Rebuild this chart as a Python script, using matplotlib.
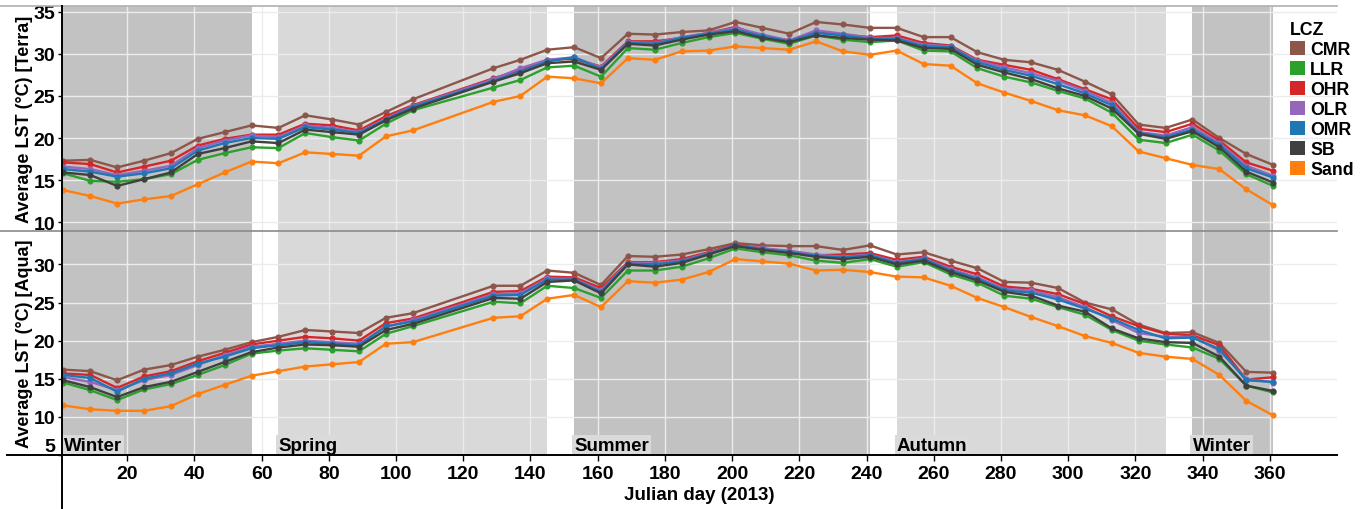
import matplotlib

matplotlib.use("Agg")
import matplotlib.pyplot as plt
from matplotlib.lines import Line2D
from matplotlib.patches import Patch

plt.rcParams["font.family"] = ["Liberation Sans", "DejaVu Sans"]
plt.rcParams["font.weight"] = "bold"

# 8-day composites (days 113 and 121 missing)
days = [1, 9, 17, 25, 33, 41, 49, 57, 65, 73, 81, 89, 97, 105, 129, 137, 145, 153,
        161, 169, 177, 185, 193, 201, 209, 217, 225, 233, 241, 249, 257, 265, 273,
        281, 289, 297, 305, 313, 321, 329, 337, 345, 353, 361]

lcz_names = ["CMR", "LLR", "OHR", "OLR", "OMR", "SB", "Sand"]
lcz_colors = ["#8c564b", "#2ca02c", "#d62728", "#9467bd", "#1f77b4", "#404040", "#ff7f0e"]

terra_cmr = [17.3, 17.4, 16.5, 17.3, 18.2, 19.9, 20.7, 21.5, 21.2, 22.7, 22.2, 21.6, 23.1, 24.6,
             28.3, 29.3, 30.5, 30.8, 29.5, 32.4, 32.3, 32.6, 32.8, 33.8, 33.1, 32.4, 33.8, 33.5,
             33.1, 33.1, 32.0, 32.0, 30.2, 29.3, 29.0, 28.1, 26.7, 25.2, 21.6, 21.2, 22.2, 20.0,
             18.1, 16.8]
terra_llr = [15.8, 14.9, 14.8, 15.1, 15.7, 17.4, 18.2, 18.9, 18.8, 20.6, 20.1, 19.7, 21.7, 23.3,
             26.0, 26.9, 28.4, 28.6, 27.3, 30.7, 30.5, 31.3, 32.0, 32.5, 31.8, 31.2, 32.2, 31.7,
             31.4, 31.6, 30.4, 30.3, 28.3, 27.3, 26.6, 25.6, 24.7, 23.0, 19.8, 19.4, 20.4, 18.5,
             15.7, 14.3]
terra_ohr = [17.1, 16.9, 15.9, 16.6, 17.3, 19.1, 19.9, 20.4, 20.4, 21.7, 21.5, 20.9, 22.6, 23.9,
             27.1, 28.1, 29.3, 29.4, 28.5, 31.5, 31.5, 31.9, 32.5, 33.2, 32.1, 31.6, 32.6, 32.3,
             32.0, 32.2, 31.3, 31.0, 29.3, 28.7, 28.1, 27.0, 25.8, 24.6, 21.1, 20.7, 21.7, 19.7,
             17.1, 16.1]
terra_olr = [16.6, 16.3, 15.6, 16.1, 16.7, 18.8, 19.7, 20.3, 20.1, 21.5, 21.2, 20.7, 22.3, 23.8,
             27.0, 28.3, 29.3, 29.6, 28.4, 31.4, 31.3, 32.0, 32.5, 33.1, 32.3, 31.6, 32.8, 32.4,
             31.9, 31.9, 31.1, 30.9, 29.2, 28.4, 27.7, 26.8, 25.6, 24.2, 20.7, 20.3, 21.3, 19.4,
             16.7, 15.5]
terra_omr = [16.3, 16.0, 15.4, 15.8, 16.4, 18.5, 19.4, 20.0, 19.9, 21.3, 21.0, 20.6, 22.2, 23.7,
             26.8, 27.9, 29.1, 29.6, 28.2, 31.3, 31.2, 31.9, 32.4, 32.9, 32.1, 31.5, 32.5, 32.2,
             31.8, 31.8, 30.9, 30.8, 29.0, 28.1, 27.4, 26.4, 25.3, 23.9, 20.6, 20.1, 21.0, 19.2,
             16.4, 15.3]
terra_sb = [15.9, 15.6, 14.3, 15.1, 15.9, 18.1, 18.8, 19.6, 19.4, 21.0, 20.7, 20.4, 22.1, 23.5,
            26.7, 27.7, 28.9, 29.1, 28.1, 31.2, 31.0, 31.7, 32.3, 32.7, 31.9, 31.4, 32.2, 31.9,
            31.7, 31.6, 30.7, 30.6, 28.7, 27.8, 27.0, 25.9, 25.0, 23.5, 20.5, 19.9, 20.8, 18.9,
            16.0, 14.7]
terra_sand = [13.8, 13.1, 12.2, 12.7, 13.1, 14.5, 15.9, 17.2, 17.0, 18.3, 18.1, 17.9, 20.2, 20.9,
              24.3, 25.0, 27.3, 27.1, 26.5, 29.5, 29.3, 30.3, 30.4, 30.9, 30.7, 30.5, 31.5, 30.3,
              29.9, 30.4, 28.8, 28.6, 26.5, 25.4, 24.4, 23.3, 22.7, 21.4, 18.4, 17.6, 16.8, 16.3,
              13.9, 12.0]

aqua_cmr = [16.2, 16.0, 14.8, 16.2, 16.8, 17.9, 18.8, 19.8, 20.5, 21.4, 21.2, 21.0, 23.0, 23.6,
            27.2, 27.2, 29.2, 28.9, 27.3, 31.1, 31.0, 31.3, 32.0, 32.8, 32.5, 32.4, 32.4, 31.9,
            32.5, 31.3, 31.6, 30.5, 29.5, 27.7, 27.6, 26.9, 25.0, 24.1, 22.1, 21.0, 21.1, 19.7,
            15.9, 15.8]
aqua_llr = [14.5, 13.5, 12.2, 13.6, 14.3, 15.5, 16.8, 18.3, 18.7, 19.0, 18.8, 18.6, 20.9, 21.9,
            25.1, 24.9, 27.2, 26.9, 25.6, 29.2, 29.2, 29.7, 30.8, 32.1, 31.6, 31.2, 30.5, 30.2,
            30.7, 29.7, 30.3, 28.7, 27.6, 25.9, 25.5, 24.4, 23.4, 21.4, 20.0, 19.5, 19.1, 17.6,
            14.1, 13.2]
aqua_ohr = [15.7, 15.5, 13.8, 15.3, 16.0, 17.3, 18.4, 19.5, 20.0, 20.5, 20.3, 20.0, 22.3, 22.9,
            26.4, 26.5, 28.4, 28.3, 26.9, 30.3, 30.3, 30.7, 31.6, 32.6, 32.1, 31.7, 31.2, 31.3,
            31.5, 30.6, 31.0, 29.7, 28.7, 27.1, 26.8, 26.1, 24.8, 23.2, 21.9, 20.9, 20.7, 19.4,
            14.9, 15.2]
aqua_olr = [15.2, 14.6, 13.5, 14.8, 15.5, 16.8, 18.1, 19.2, 19.6, 20.0, 19.8, 19.6, 21.8, 22.7,
            26.1, 26.2, 28.2, 28.1, 26.6, 30.2, 30.2, 30.5, 31.5, 32.5, 32.1, 31.8, 31.3, 31.0,
            31.3, 30.3, 30.8, 29.4, 28.3, 26.8, 26.6, 25.7, 24.4, 22.7, 21.0, 20.5, 20.5, 18.7,
            15.0, 14.5]
aqua_omr = [15.5, 15.1, 13.3, 15.0, 15.7, 17.0, 17.9, 19.0, 19.4, 19.8, 19.6, 19.4, 21.9, 22.5,
            25.9, 26.0, 28.0, 28.0, 26.4, 30.1, 30.0, 30.4, 31.4, 32.5, 32.0, 31.6, 31.1, 30.9,
            31.2, 30.2, 30.7, 29.2, 28.1, 26.6, 26.3, 25.4, 24.2, 22.9, 21.4, 20.3, 20.4, 18.9,
            14.8, 14.6]
aqua_sb = [14.8, 13.9, 12.6, 13.9, 14.6, 15.9, 17.2, 18.5, 19.1, 19.5, 19.4, 19.2, 21.4, 22.2,
           25.6, 25.5, 27.7, 27.9, 26.2, 30.0, 29.7, 30.2, 31.3, 32.4, 31.9, 31.5, 31.0, 30.7,
           31.0, 30.0, 30.5, 29.0, 27.9, 26.4, 25.9, 24.6, 23.8, 21.6, 20.3, 19.8, 19.7, 17.9,
           14.1, 13.4]
aqua_sand = [11.5, 11.0, 10.8, 10.8, 11.4, 13.0, 14.2, 15.4, 16.0, 16.6, 16.9, 17.2, 19.6, 19.8,
             23.0, 23.2, 25.5, 26.0, 24.4, 27.8, 27.6, 28.0, 29.0, 30.7, 30.4, 30.1, 29.2, 29.3,
             29.0, 28.4, 28.3, 27.2, 25.6, 24.4, 23.1, 21.9, 20.6, 19.7, 18.4, 17.9, 17.6, 15.5,
             12.1, 10.2]

season_names = ["Winter", "Spring", "Summer", "Autumn", "Winter"]
season_start = [0.6, 65, 153, 249, 337]
season_end = [57, 145, 241, 329, 361]
season_shade = ["#c2c2c2", "#d9d9d9", "#c2c2c2", "#d9d9d9", "#c2c2c2"]

W, H = 1364, 510
fig = plt.figure(figsize=(W / 100, H / 100), dpi=100)

left, right = 62, 1337
top_axes = fig.add_axes([left / W, 1 - 231.5 / H, (right - left) / W, (231.5 - 7) / H])
bot_axes = fig.add_axes([left / W, 1 - 456 / H, (right - left) / W, (456 - 231.5) / H])

panels = [
    (top_axes, [terra_cmr, terra_llr, terra_ohr, terra_olr, terra_omr, terra_sb, terra_sand],
     "Average LST (°C) [Terra]", (9, 35.7), [10, 15, 20, 25, 30, 35]),
    (bot_axes, [aqua_cmr, aqua_llr, aqua_ohr, aqua_olr, aqua_omr, aqua_sb, aqua_sand],
     "Average LST (°C) [Aqua]", (5, 34.45), [5, 10, 15, 20, 25, 30]),
]

for ax, series, ylabel, ylim, yticks in panels:
    for x0, x1, shade in zip(season_start, season_end, season_shade):
        ax.axvspan(x0, x1, color=shade, lw=0, zorder=0)
    for values, name, color in zip(series, lcz_names, lcz_colors):
        ax.plot(days, values, color=color, lw=1.7, marker="o", ms=3.4, zorder=3, label=name)
    ax.set_xlim(0.6, 380)
    ax.set_ylim(*ylim)
    ax.set_yticks(yticks)
    ax.set_xticks(range(20, 361, 20))
    ax.set_axisbelow(True)
    ax.grid(True, color="#ececec", lw=1.0)
    for side in ["top", "right", "bottom", "left"]:
        ax.spines[side].set_visible(False)
    ax.set_facecolor("white")
    ax.tick_params(axis="y", length=3, width=1, pad=2, labelsize=14)
    ax.set_ylabel(ylabel, fontsize=13, fontweight="bold")
    ax.yaxis.set_label_coords(-0.0225, 0.5)

top_axes.tick_params(axis="x", length=0, labelbottom=False)
bot_axes.tick_params(axis="x", length=4, width=1, pad=3, labelsize=14)
bot_axes.get_yticklabels()[0].set_va("bottom")
bot_axes.set_xlabel("Julian day (2013)", fontsize=13.5, fontweight="bold", labelpad=3)

for name, x0 in zip(season_names, season_start):
    bot_axes.text(max(x0, 1.2), 5.15, name, ha="left", va="bottom", fontsize=13.5,
                  fontweight="bold", zorder=5,
                  bbox=dict(boxstyle="square,pad=0.12", facecolor="#dadada", edgecolor="none"))

# frame lines drawn across the figure
fig.add_artist(Line2D([0, right / W], [1 - 7 / H, 1 - 7 / H], color="#b0b0b0", lw=1.2))
fig.add_artist(Line2D([0, right / W], [1 - 231.5 / H, 1 - 231.5 / H], color="#8a8a8a", lw=1.2))
fig.add_artist(Line2D([7 / W, right / W], [1 - 456 / H, 1 - 456 / H], color="black", lw=1.4))
fig.add_artist(Line2D([left / W, left / W], [0, 1 - 7 / H], color="black", lw=1.4))

handles = [Patch(facecolor=c, edgecolor="none") for c in lcz_colors]
fig.legend(handles, lcz_names, title="LCZ", loc="upper left",
           bbox_to_anchor=(1279 / W, 1 - 11 / H), frameon=False,
           prop={"weight": "bold", "size": 12.8},
           title_fontproperties={"weight": "bold", "size": 12.8},
           alignment="left", handlelength=0.85, handleheight=0.85,
           handletextpad=0.3, labelspacing=0.16, borderpad=0.1)

fig.savefig("out.png", dpi=100, facecolor="white")
